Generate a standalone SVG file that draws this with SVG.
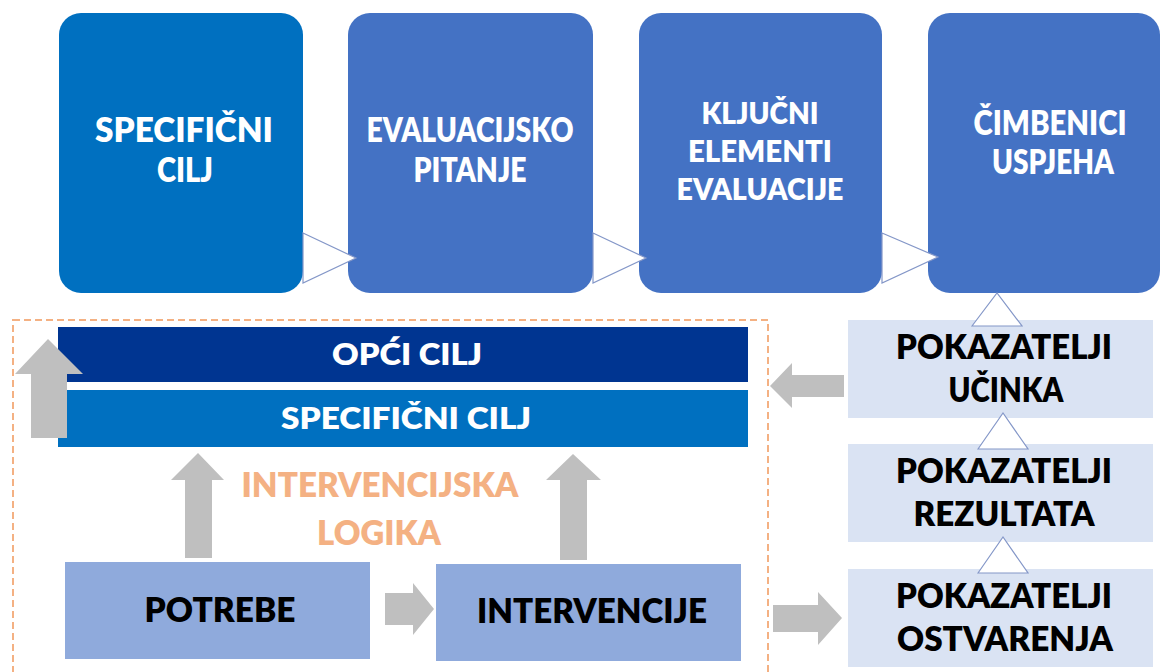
<svg xmlns="http://www.w3.org/2000/svg" width="1162" height="672" viewBox="0 0 1162 672">
<style>
  text { font-family: Lato, "Open Sans", "Liberation Sans", sans-serif; font-weight: 800; text-anchor: middle; }
  .w { fill: #ffffff; }
  .k { fill: #000000; }
  .o { fill: #f4b183; }
  .t1 { font-size: 33px; }
  .t1s { font-size: 31px; }
  .t2 { font-size: 31px; }
  .t3 { font-size: 34px; }
  .gray { fill: #bfbfbf; }
  .tri { fill: #ffffff; stroke: #8497c8; stroke-width: 1.2; }
  .pk { fill: #dae3f3; }
  .lb { fill: #8faadc; }
</style>
<rect width="1162" height="672" fill="#ffffff"/>

<g id="box-specificni">
  <rect x="59" y="13" width="244" height="280" rx="22" fill="#0070c0"/>
  <text class="w t1" x="184" y="142" textLength="178" lengthAdjust="spacingAndGlyphs">SPECIFIČNI</text>
  <text class="w t1" x="185" y="182" textLength="56" lengthAdjust="spacingAndGlyphs">CILJ</text>
</g>
<g id="box-evaluacijsko">
  <rect x="348" y="13" width="245" height="280" rx="22" fill="#4472c4"/>
  <text class="w t1" x="470" y="142" textLength="207" lengthAdjust="spacingAndGlyphs">EVALUACIJSKO</text>
  <text class="w t1" x="470" y="182" textLength="113" lengthAdjust="spacingAndGlyphs">PITANJE</text>
</g>
<g id="box-kljucni">
  <rect x="639" y="13" width="243" height="280" rx="22" fill="#4472c4"/>
  <text class="w t1s" x="760" y="124" textLength="117" lengthAdjust="spacingAndGlyphs">KLJUČNI</text>
  <text class="w t1s" x="760" y="162" textLength="144" lengthAdjust="spacingAndGlyphs">ELEMENTI</text>
  <text class="w t1s" x="760" y="200" textLength="167" lengthAdjust="spacingAndGlyphs">EVALUACIJE</text>
</g>
<g id="box-cimbenici">
  <rect x="928" y="13" width="232" height="280" rx="22" fill="#4472c4"/>
  <text class="w t1" x="1050" y="135" textLength="153" lengthAdjust="spacingAndGlyphs">ČIMBENICI</text>
  <text class="w t1" x="1053" y="174" textLength="122" lengthAdjust="spacingAndGlyphs">USPJEHA</text>
</g>

<g id="frame-intervencijska">
  <rect x="13" y="320" width="755" height="362" fill="none" stroke="#f4b183" stroke-width="2" stroke-dasharray="7 4"/>
</g>

<g id="bar-opci">
  <rect x="58" y="327" width="690" height="55" fill="#003591"/>
  <text class="w t2" x="407" y="365" textLength="150" lengthAdjust="spacingAndGlyphs">OPĆI CILJ</text>
</g>
<g id="bar-specificni">
  <rect x="58" y="390" width="690" height="57" fill="#0070c0"/>
  <text class="w t2" x="406" y="429" textLength="250" lengthAdjust="spacingAndGlyphs">SPECIFIČNI CILJ</text>
</g>

<g id="label-logika">
  <text class="o t1" x="380" y="497" textLength="277" lengthAdjust="spacingAndGlyphs">INTERVENCIJSKA</text>
  <text class="o t1" x="379" y="545" textLength="124" lengthAdjust="spacingAndGlyphs">LOGIKA</text>
</g>

<g id="box-potrebe">
  <rect class="lb" x="65" y="562" width="305" height="97"/>
  <text class="k t3" x="220" y="622" textLength="151" lengthAdjust="spacingAndGlyphs">POTREBE</text>
</g>
<g id="box-intervencije">
  <rect class="lb" x="436" y="564" width="305" height="97"/>
  <text class="k t3" x="592" y="623" textLength="230" lengthAdjust="spacingAndGlyphs">INTERVENCIJE</text>
</g>

<g id="pk-ucinka">
  <rect class="pk" x="848" y="320" width="305" height="98"/>
  <text class="k t3" x="1004" y="359" textLength="216" lengthAdjust="spacingAndGlyphs">POKAZATELJI</text>
  <text class="k t3" x="1006" y="402" textLength="115" lengthAdjust="spacingAndGlyphs">UČINKA</text>
</g>
<g id="pk-rezultata">
  <rect class="pk" x="848" y="444" width="305" height="98"/>
  <text class="k t3" x="1004" y="483" textLength="216" lengthAdjust="spacingAndGlyphs">POKAZATELJI</text>
  <text class="k t3" x="1004" y="526" textLength="181" lengthAdjust="spacingAndGlyphs">REZULTATA</text>
</g>
<g id="pk-ostvarenja">
  <rect class="pk" x="848" y="569" width="305" height="98"/>
  <text class="k t3" x="1004" y="608" textLength="216" lengthAdjust="spacingAndGlyphs">POKAZATELJI</text>
  <text class="k t3" x="1005" y="651" textLength="216" lengthAdjust="spacingAndGlyphs">OSTVARENJA</text>
</g>

<g id="connectors">
  <polygon class="tri" points="303,233 356,258 303,283"/>
  <polygon class="tri" points="593,233 646,258 593,283"/>
  <polygon class="tri" points="882,233 938,257 882,283"/>
  <polygon class="tri" points="972,326 997,293 1022,326"/>
  <polygon class="tri" points="978,449 1003,413 1028,449"/>
  <polygon class="tri" points="978,573 1003,537 1028,573"/>
  <polygon class="gray" points="31,438 31,374 15,374 48,339 83,374 67,374 67,438"/>
  <polygon class="gray" points="185,558 185,480 171,480 198,453 224,480 212,480 212,558"/>
  <polygon class="gray" points="560,560 560,480 546,480 573,454 601,480 587,480 587,560"/>
  <polygon class="gray" points="385,593 413,593 413,583 434,609 413,635 413,625 385,625"/>
  <polygon class="gray" points="844,375 792,375 792,363 770,386 792,408 792,397 844,397"/>
  <polygon class="gray" points="773,605 818,605 818,592 842,618 818,645 818,632 773,632"/>
</g>
</svg>
